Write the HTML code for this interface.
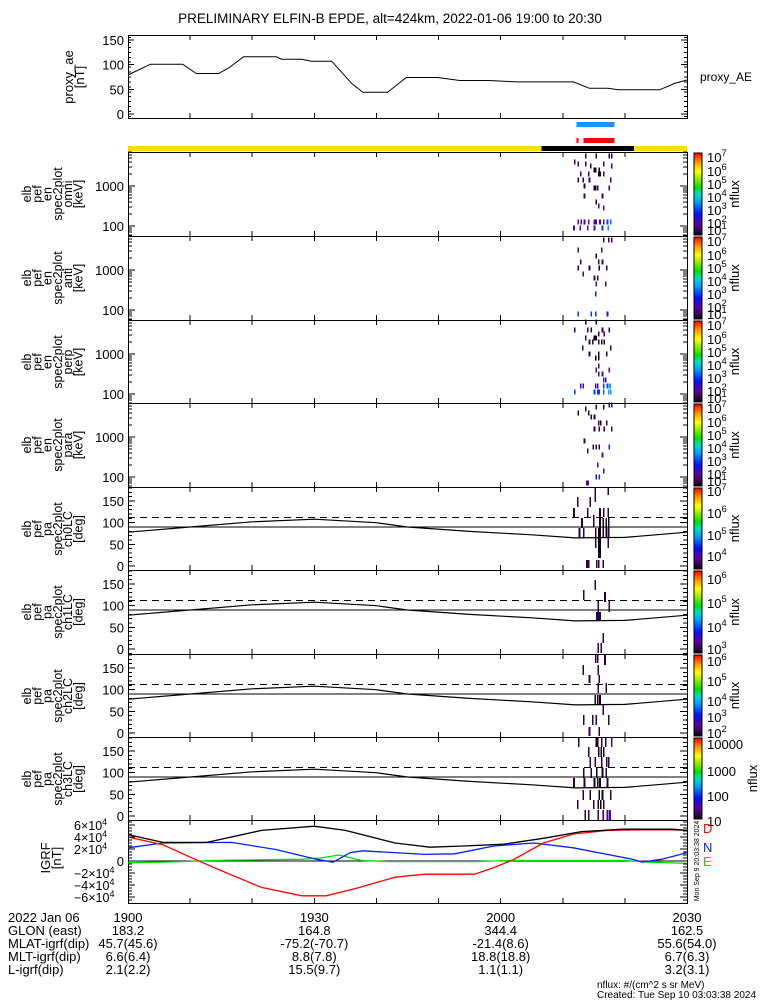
<!DOCTYPE html>
<html><head><meta charset="utf-8"><style>
html,body{margin:0;padding:0;background:#fff;}
svg{display:block;font-family:"Liberation Sans",sans-serif;}
line,rect{shape-rendering:crispEdges;}
</style></head><body>
<svg id="chart" width="775" height="1000" viewBox="0 0 775 1000" xmlns="http://www.w3.org/2000/svg">
<defs>
<linearGradient id="cmap" x1="0" y1="1" x2="0" y2="0">
<stop offset="0" stop-color="#000000"/><stop offset="0.04" stop-color="#2a0040"/>
<stop offset="0.14" stop-color="#6000a0"/><stop offset="0.26" stop-color="#0010ff"/>
<stop offset="0.4" stop-color="#00a0ff"/><stop offset="0.5" stop-color="#00e0c0"/>
<stop offset="0.58" stop-color="#00e000"/><stop offset="0.72" stop-color="#c0f000"/>
<stop offset="0.78" stop-color="#ffff00"/><stop offset="0.88" stop-color="#ffa000"/>
<stop offset="1" stop-color="#ff0000"/>
</linearGradient>
</defs>
<g id="root"></g>
</svg>
<script>
// ---- data ----
const aeT=[0,3.6,8.8,11,14.6,16.3,18.6,23.9,24.7,28,29.5,32.8,36,37.8,41.8,44.8,49.9,53.4,58.1,62.5,71.7,74.3,77.3,78.9,85.6,88,90];
const aeV=[79,101,101,82,82,94,116,116,111,111,107,107,62,44,44,74,74,68,68,65,65,52,52,49,49,62,69];
const paT=[0,10,20,30,40,45,55,65,72,80,85,90];
const paV=[78,90,102,108,100,90,80,72,65,66,72,78];
const blkT=[0,5.6,12.7,21.5,30,35,43,48.6,54,60.5,67,73,79.6,87.6,90];
const blkV=[44000,31000,31000,51000,58000,51000,30000,23000,25000,28000,38000,49000,53000,53000,51000];
const redT=[0,5.6,11,15,21.5,28,31.9,36.6,43,47.8,55.8,58.9,62,66.9,71.7,77.3,82.8,87.6,90];
const redV=[40000,27000,2000,-16000,-44000,-58000,-58000,-46000,-27000,-22000,-22000,-11000,2000,30000,45000,51000,52000,52000,51000];
const bluT=[0,5.6,16.7,23.9,30.3,33,35.8,37.8,47.8,52.6,58.9,65.3,71.7,81.2,82.8,86,90];
const bluV=[22000,30000,31000,19000,3000,-2000,14000,17000,11000,12000,25000,30000,22000,3000,-2000,3000,14000];
const grnT=[0,8.8,14,28,31,34,37.5,42,56,62,70,80,84,90];
const grnV=[-3000,-1000,1000,3000,5000,10000,1000,-1000,-1000,1000,1000,1000,-2000,-4000];
const p1T=[73.7,75.4,77.5,77.9,71.9,72.5,73.7,74.5,75.1,75.3,75.9,76.6,77.9,72.9,74.2,75.8,76.0,76.6,72.5,73.3,74.3,77.7,73.5,75.1,75.3,75.6,77.5,73.5,76.4,75.4,75.8,76.6,72.5,73.0,73.5,74.2,75.1,75.4,76.0,76.6,77.2,77.7,71.8,72.8,74.0,75.1,76.4,77.3];
const p1E=[3.75,3.75,3.75,3.75,3.6,3.55,3.55,3.5,3.4,3.4,3.4,3.55,3.5,3.3,3.3,3.3,3.3,3.3,3.15,3.15,3.15,3.15,3.0,2.95,2.95,2.95,2.95,2.75,2.75,2.6,2.5,2.45,2.1,2.1,2.1,2.1,2.1,2.1,2.1,2.1,2.1,2.1,1.95,1.95,1.95,1.95,1.95,1.95];
const p1V=[0.05,0.05,0.05,0.05,0.08,0.08,0.05,0.05,0.02,0.02,0.02,0.08,0.08,0.08,0.08,0.02,0.02,0.08,0.05,0.05,0.08,0.08,0.05,0.02,0.02,0.08,0.08,0.08,0.08,0.02,0.1,0.1,0.15,0.15,0.15,0.15,0.18,0.18,0.15,0.15,0.3,0.35,0.15,0.15,0.15,0.2,0.3,0.38];
const p2T=[76.6,77.4,77.9,72.5,76.3,75.4,72.9,75.8,76.4,72.5,74.3,75.9,77.1,73.3,75.1,75.6,75.4,76.9,75.3,72.5,74.6,75.3,77.2];
const p2E=[3.75,3.75,3.75,3.5,3.5,3.35,3.2,3.2,3.2,3.05,3.05,3.05,3.05,2.9,2.8,2.8,2.65,2.65,2.4,1.9,1.9,1.9,1.9];
const p2V=[0.08,0.08,0.08,0.08,0.08,0.02,0.08,0.08,0.08,0.05,0.08,0.02,0.05,0.1,0.08,0.08,0.1,0.1,0.28,0.3,0.3,0.3,0.18];
const p3T=[73.7,75.4,71.9,74.0,74.6,76.4,77.5,75.8,76.7,73.7,75.1,75.4,74.3,74.8,75.8,76.3,76.7,73.2,77.7,74.3,75.8,77.1,75.3,75.8,75.8,75.4,77.5,75.8,76.4,76.6,76.9,72.9,73.3,75.3,75.6,76.6,77.2,77.6,71.9,75.1,75.6,75.9,76.6,77.4,77.7];
const p3E=[3.8,3.8,3.6,3.6,3.6,3.6,3.6,3.5,3.5,3.4,3.4,3.4,3.3,3.3,3.3,3.3,3.3,3.15,3.15,3.0,3.0,3.0,2.9,2.9,2.7,2.6,2.6,2.5,2.5,2.35,2.35,2.2,2.2,2.2,2.2,2.2,2.2,2.2,2.05,2.05,2.05,2.05,2.05,2.05,2.05];
const p3V=[0.05,0.05,0.05,0.05,0.05,0.05,0.05,0.08,0.08,0.05,0.02,0.02,0.05,0.05,0.05,0.05,0.02,0.05,0.08,0.05,0.05,0.05,0.02,0.02,0.12,0.12,0.15,0.12,0.15,0.3,0.18,0.18,0.18,0.15,0.15,0.3,0.32,0.4,0.3,0.3,0.28,0.3,0.35,0.4,0.4];
const p4T=[76.6,77.5,77.9,73.7,75.4,72.5,74.2,74.6,75.1,75.8,76.1,77.1,75.1,75.9,76.7,77.9,73.5,74.9,75.4,75.9,77.5,74.0,76.4,75.6,76.6,75.4,75.9,73.9,74.1];
const p4E=[3.75,3.8,3.8,3.7,3.75,3.6,3.6,3.5,3.5,3.35,3.35,3.35,3.2,3.2,3.2,3.2,2.9,2.75,2.75,2.75,2.75,2.65,2.55,2.3,2.15,2.0,2.0,1.85,1.85];
const p4V=[0.05,0.08,0.08,0.05,0.05,0.05,0.05,0.05,0.05,0.05,0.02,0.05,0.05,0.05,0.02,0.05,0.08,0.08,0.08,0.05,0.28,0.05,0.15,0.1,0.1,0.2,0.3,0.15,0.15];
const p5T=[75.2,77.3,72.4,74.4,71.8,74.0,75.0,76.0,76.6,77.3,73.1,76.0,76.5,77.0,77.4,72.7,73.4,75.3,75.8,76.0,77.3,73.9,74.2,75.5,75.8,76.5];
const p5A=[182,182,159,159,134,134,118,134,134,134,111,111,111,111,111,88,88,88,88,88,88,14,14,14,14,14];
const p5B=[148,164,136,136,113,113,90,113,113,113,88,67,67,67,67,65,65,42,18,18,42,-5,-5,-5,-5,-5];
const p5V=[0.05,0.05,0.05,0.05,0.05,0.05,0.05,0.05,0.05,0.05,0.05,0.02,0.02,0.02,0.02,0.05,0.05,0.05,0.02,0.02,0.05,0.05,0.05,0.05,0.05,0.05];
const p6T=[75.2,73.4,76.8,75.7,77.5,75.5,76.0,76.5,76.2,75.7];
const p6A=[159,136,132,113,113,85,85,37,14,14];
const p6B=[136,113,108,67,85,67,67,14,-9,-9];
const p6V=[0.05,0.05,0.05,0.05,0.05,0.05,0.05,0.05,0.05,0.05];
const p7T=[75.3,75.6,76.8,73.3,75.7,74.3,75.9,75.7,77.0,75.2,75.6,76.0,76.5,73.4,74.8,75.4,77.4,74.3,75.9];
const p7A=[182,182,183,157,157,134,134,115,115,88,88,88,65,42,42,42,42,14,14];
const p7B=[162,162,157,134,134,115,115,92,92,65,65,65,42,18,18,18,18,-7,-7];
const p7V=[0.05,0.05,0.05,0.05,0.05,0.05,0.05,0.05,0.05,0.02,0.02,0.02,0.05,0.05,0.05,0.05,0.05,0.05,0.05];
const p8T=[72.6,75.4,75.6,76.3,76.9,77.9,74.2,75.8,76.2,76.6,74.4,75.2,76.3,77.1,77.4,73.4,74.6,75.5,76.4,77.0,71.8,73.5,75.1,75.6,76.0,77.2,73.3,74.4,75.9,76.4,77.7,72.4,75.0,75.7,76.1,76.6,73.6,74.2,75.7,76.5,77.2,77.6];
const p8A=[182,182,182,182,182,182,159,159,159,159,136,136,136,136,136,111,111,111,111,111,88,88,88,88,88,88,60,60,60,60,60,37,37,37,37,37,14,14,14,14,14,14];
const p8B=[159,159,159,159,159,159,136,136,136,136,113,113,113,113,113,88,88,88,88,88,65,65,65,65,65,65,37,37,37,37,37,16,16,16,16,16,-9,-9,-9,-9,-9,-9];
const p8V=[0.05,0.02,0.02,0.05,0.05,0.15,0.05,0.02,0.02,0.02,0.05,0.05,0.05,0.05,0.05,0.05,0.05,0.02,0.02,0.05,0.05,0.05,0.02,0.02,0.02,0.05,0.05,0.05,0.02,0.02,0.05,0.05,0.05,0.02,0.02,0.05,0.05,0.05,0.05,0.05,0.15,0.18];
const timeTicks=["1900","1930","2000","2030"];
const glon=["183.2","164.8","344.4","162.5"];
const mlat=["45.7(45.6)","-75.2(-70.7)","-21.4(8.6)","55.6(54.0)"];
const mlt=["6.6(6.4)","8.8(7.8)","18.8(18.8)","6.7(6.3)"];
const lval=["2.1(2.2)","15.5(9.7)","1.1(1.1)","3.2(3.1)"];

const NS="http://www.w3.org/2000/svg";
const root=document.getElementById('root');
const L=128,R=687;
const xT=t=>L+(R-L)*t/90;
function mk(tag,attrs,parent){const e=document.createElementNS(NS,tag);for(const k in attrs)e.setAttribute(k,attrs[k]);(parent||root).appendChild(e);return e;}
function txt(x,y,s,size,anchor,fill,parent){const e=mk('text',{x:x,y:y,'font-size':size,'text-anchor':anchor||'start',fill:fill||'#000'},parent);e.textContent=s;return e;}
function line(x1,y1,x2,y2,parent,stroke,dash){return mk('line',{x1:x1,y1:y1,x2:x2,y2:y2,stroke:stroke||'#000','stroke-width':1,'stroke-dasharray':dash||'none'},parent);}
function poly(T,V,yf,color,parent,w){let d='';T.forEach((t,i)=>{d+=(i?'L':'M')+xT(t).toFixed(1)+','+yf(V[i]).toFixed(1);});return mk('path',{d:d,fill:'none',stroke:color,'stroke-width':w||1.2},parent);}
function cmapColor(v){const st=[[0,[0,0,0]],[0.04,[42,0,64]],[0.14,[96,0,160]],[0.26,[0,16,255]],[0.4,[0,160,255]],[0.5,[0,224,192]],[0.58,[0,224,0]],[0.78,[255,255,0]],[1,[255,0,0]]];
  for(let i=1;i<st.length;i++){if(v<=st[i][0]){const a=st[i-1],b=st[i];const f=(v-a[0])/(b[0]-a[0]);return 'rgb('+a[1].map((c,j)=>Math.round(c+(b[1][j]-c)*f)).join(',')+')';}}return 'rgb(255,0,0)';}
function frame(top,bot,name){
  const g=mk('g',{});
  
  
  mk('rect',{x:L+0.5,y:top+0.5,width:R-L,height:bot-top,fill:'none',stroke:'#000','stroke-width':1},g);
  for(let m=10;m<90;m+=10){line(xT(m),top,xT(m),top+5,g);line(xT(m),bot,xT(m),bot-5,g);}
  return g;}
function ylabel(lines,cx,cy,startX,step,size){
  lines.forEach((s,i)=>{const x=startX+i*step;const e=txt(0,0,s,size,'middle');e.setAttribute('transform','translate('+x+','+cy+') rotate(-90)');});}
function supLabel(x,y,base,exp,size,parent){const e=txt(x,y,base,size,'start','#000',parent);const ts=mk('tspan',{dy:-6,'font-size':size*0.72},e);ts.textContent=exp;return e;}
function colorbar(top,bot,labels,ys,name,nx){
  const g=mk('g',{});
  
  
  mk('rect',{x:694,y:top+1,width:8,height:bot-top-2,fill:'url(#cmap)',stroke:'#000','stroke-width':1},g);
  labels.forEach((l,i)=>{if(l[1]==='')txt(707,ys[i],l[0],13,'start','#000',g);else supLabel(707,ys[i],l[0],l[1],13,g);});
  const n=txt(0,0,'nflux',13,'middle','#000',g);n.setAttribute('transform','translate('+(nx||739)+','+((top+bot)/2)+') rotate(-90)');}

const ttl=txt(390,23,'PRELIMINARY ELFIN-B EPDE, alt=424km, 2022-01-06 19:00 to 20:30',13.5,'middle');


const aeY=v=>114-v*74/150;
const ga=frame(35,118,'proxy-ae-panel');
[0,50,100,150].forEach(v=>{txt(124,aeY(v)+5,String(v),13,'end','#000',ga);line(L,aeY(v),L+6,aeY(v),ga);line(R,aeY(v),R-6,aeY(v),ga);});
for(let v=-5;v<=155;v+=10){if(aeY(v)>35&&aeY(v)<118){line(L,aeY(v),L+3,aeY(v),ga);line(R,aeY(v),R-3,aeY(v),ga);}}
const aeLine=poly(aeT,aeV,aeY,'#000',ga,1);

ylabel(['proxy_ae','[nT]'],0,77,73,11,13);
txt(700,81,'proxy_AE',12,'start','#000',ga);

const sb=mk('g',{});


mk('rect',{x:xT(72.2),y:122,width:xT(78.3)-xT(72.2),height:5,fill:'#1e90ff'},sb);
mk('rect',{x:xT(72.2),y:138,width:2,height:5,fill:'#f00'},sb);
mk('rect',{x:xT(73.3),y:138,width:xT(78.3)-xT(73.3),height:5,fill:'#f00'},sb);
mk('rect',{x:L,y:146,width:R-L,height:5,fill:'#ffdd00'},sb);
mk('rect',{x:xT(66.6),y:146,width:xT(81.5)-xT(66.6),height:5,fill:'#000'},sb);

const specTops=[152,236,320,403];
const specNames=['omni','anti','perp','para'];
const specData=[[p1T,p1E,p1V],[p2T,p2E,p2V],[p3T,p3E,p3V],[p4T,p4E,p4V]];
const cbSpecLabels=[['10','7'],['10','6'],['10','5'],['10','4'],['10','3'],['10','2'],['10','1']];
specTops.forEach((top,k)=>{
  const bot=(k<3?specTops[k+1]:487);const ly=e=>top+34-(e-3)*40;
  const g=frame(top,bot,'spectrogram-'+specNames[k]+'-panel');
  const [T,E,V]=specData[k];
  T.forEach((t,i)=>{const r=mk('rect',{x:xT(t)-0.8,y:ly(E[i]+0.0625),width:1.6,height:5,fill:cmapColor(V[i])},g);
    });
  [2,3].forEach(d=>{txt(124,ly(d)+5,String(Math.pow(10,d)),13,'end','#000',g);line(L,ly(d),L+7,ly(d),g);line(R,ly(d),R-7,ly(d),g);});
  for(let d=1;d<4;d++)for(let m=2;m<10;m++){const y=ly(d+Math.log10(m));if(y>top&&y<bot){line(L,y,L+4,y,g);line(R,y,R-4,y,g);}}
  ylabel(['elb','pef','en','spec2plot',specNames[k],'[keV]'],0,top+42,31,10.3,12.5);
  colorbar(top,bot,cbSpecLabels,[top+10,top+24,top+37,top+50,top+63,top+76,top+83],'colorbar-'+specNames[k]);
});

const paTops=[487,570,654,737];
const paNames=['ch0LC','ch1LC','ch2LC','ch3LC'];
const paData=[[p5T,p5A,p5B,p5V],[p6T,p6A,p6B,p6V],[p7T,p7A,p7B,p7V],[p8T,p8A,p8B,p8V]];
const paCb=[
 [[['10','7'],['10','6'],['10','5'],['10','4']],[9,31,53,74]],
 [[['10','6'],['10','5'],['10','4'],['10','3']],[14,38,62,84]],
 [[['10','6'],['10','5'],['10','4'],['10','3'],['10','2']],[12,32,52,68,84]],
 [[['10000',''],['1000',''],['100',''],['10','']],[12,39,64,89]]];
paTops.forEach((top,k)=>{
  const bot=(k<3?paTops[k+1]:820);const py=d=>top+79-d*0.433;
  const g=frame(top,bot,'pitch-angle-'+paNames[k]+'-panel');
  const [T,A,B,V]=paData[k];
  T.forEach((t,i)=>{const r=mk('rect',{x:xT(t)-0.8,y:Math.max(top,py(A[i])),width:1.6,height:Math.min(bot,py(B[i]))-Math.max(top,py(A[i])),fill:cmapColor(V[i])},g);
    });
  line(L,py(112),R,py(112),g,'#000','7,5');
  line(L,py(90),R,py(90),g);
  poly(paT,paV,py,'#000',g,1.2);
  [0,50,100,150].forEach(v=>{txt(124,py(v)+5,String(v),13,'end','#000',g);line(L,py(v),L+7,py(v),g);line(R,py(v),R-7,py(v),g);});
  for(let v=-10;v<=190;v+=10){const y=py(v);if(y>top&&y<bot){line(L,y,L+4,y,g);line(R,y,R-4,y,g);}}
  ylabel(['elb','pef','pa','spec2plot',paNames[k],'[deg]'],0,top+42,31,10.3,12.5);
  colorbar(top,bot,paCb[k][0],paCb[k][1].map(o=>top+o),'colorbar-'+paNames[k],k===3?757:739);
});

const iy=v=>861-v*36/60000;
const gi=frame(820,903,'igrf-panel');
line(L,iy(0),R,iy(0),gi);
const gLine=poly(grnT,grnV,iy,'#00e000',gi,1.3);
const bLine=poly(bluT,bluV,iy,'#0020ff',gi,1.3);
const rLine=poly(redT,redV,iy,'#ff0000',gi,1.3);
const kLine=poly(blkT,blkV,iy,'#000',gi,1.3);
[60000,40000,20000,0,-20000,-40000,-60000].forEach(v=>{const y=iy(v);
  if(v===0)txt(124,y+5,'0',13,'end','#000',gi);
  else{const e=txt(74,y+5,(v<0?'\u2212':'')+Math.abs(v/10000)+'\u00d710',12.5,'start','#000',gi);const s=mk('tspan',{dy:-5,'font-size':9},e);s.textContent='4';}
  line(L,y,L+7,y,gi);line(R,y,R-7,y,gi);});
for(let v=-65000;v<=65000;v+=5000){const y=iy(v);if(y>820&&y<903){line(L,y,L+4,y,gi);line(R,y,R-4,y,gi);}}
ylabel(['IGRF','[nT]'],0,858,50,11,13);
txt(703,833,'D',13,'start','#ff0000',gi);
txt(703,852,'N',13,'start','#0020ff',gi);
txt(703,866,'E',13,'start','#00e000',gi);
const stamp=txt(0,0,'Mon Sep  9 20:03:38 2024',7,'middle','#000',gi);stamp.setAttribute('transform','translate(699,861) rotate(-90)');

const ann=mk('g',{});


const rows=[['2022 Jan 06',timeTicks,922],['GLON (east)',glon,935],['MLAT-igrf(dip)',mlat,948],['MLT-igrf(dip)',mlt,961],['L-igrf(dip)',lval,974]];
rows.forEach(r=>{txt(8,r[2],r[0],13,'start','#000',ann);r[1].forEach((s,i)=>txt(xT(i*30),r[2],s,13,'middle','#000',ann));});
txt(597,988,'nflux: #/(cm^2 s sr MeV)',10,'start','#000',ann);
txt(597,998,'Created: Tue Sep 10 03:03:38 2024',10,'start','#000',ann);
</script>
</body></html>
